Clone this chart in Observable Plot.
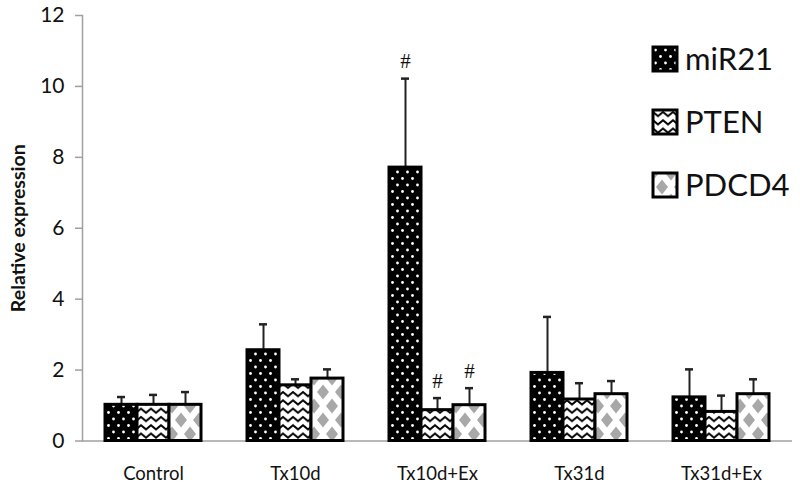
<!DOCTYPE html>
<html>
<head>
<meta charset="utf-8">
<script src="https://cdn.jsdelivr.net/npm/d3@7"></script>
<script src="https://cdn.jsdelivr.net/npm/@observablehq/plot@0.6"></script>
<style>
  body { margin: 0; background: #fff; }
  #wrap { position: relative; width: 800px; height: 491px; background: #fff; }
  #legend { position: absolute; left: 645px; top: 30px; }
</style>
</head>
<body>
<div id="wrap"></div>
<script>
// ---- data ----
const categories = ["Control", "Tx10d", "Tx10d+Ex", "Tx31d", "Tx31d+Ex"];
const series = ["miR21", "PTEN", "PDCD4"];
const miR21Mean = [1.02, 2.56, 7.71, 1.92, 1.23];
const miR21SD   = [0.22, 0.73, 2.51, 1.58, 0.79];
const PTENMean  = [1.02, 1.57, 0.87, 1.17, 0.82];
const PTENSD    = [0.28, 0.17, 0.34, 0.46, 0.46];
const PDCD4Mean = [1.02, 1.76, 1.01, 1.32, 1.32];
const PDCD4SD   = [0.36, 0.26, 0.48, 0.37, 0.42];
const yTicks = [0, 2, 4, 6, 8, 10, 12];
const sigCategory = ["Tx10d+Ex", "Tx10d+Ex", "Tx10d+Ex"];
const sigSeries   = ["miR21", "PTEN", "PDCD4"];
const sigLabel = "#";
const yTitle = "Relative expression";

// ---- table built from the arrays ----
const means = {miR21: miR21Mean, PTEN: PTENMean, PDCD4: PDCD4Mean};
const sds = {miR21: miR21SD, PTEN: PTENSD, PDCD4: PDCD4SD};
const rows = [];
categories.forEach((c, i) => series.forEach(s => {
  rows.push({category: c, series: s, mean: means[s][i], top: means[s][i] + sds[s][i]});
}));
const sigRows = sigCategory.map((c, k) => rows.find(r => r.category === c && r.series === sigSeries[k]));

const patternIds = ["pat-mir", "pat-pten", "pat-pdcd4"];
const patternFills = patternIds.map(id => `url(#${id})`);

const defsMarkup = `
<pattern id="pat-mir" width="10" height="13" patternUnits="userSpaceOnUse">
  <rect width="10" height="13" fill="#000"/>
  <circle cx="2.5" cy="3" r="1.4" fill="#fff"/>
  <circle cx="7.5" cy="9.5" r="1.4" fill="#fff"/>
</pattern>
<pattern id="pat-pten" width="10" height="8.3" patternUnits="userSpaceOnUse">
  <rect width="10" height="8.3" fill="#fff"/>
  <path d="M-5,6 L0,2 L5,6 L10,2 L15,6" fill="none" stroke="#000" stroke-width="2"/>
</pattern>
<pattern id="pat-pdcd4" width="18" height="28" patternUnits="userSpaceOnUse">
  <rect width="18" height="28" fill="#fff"/>
  <path d="M0,-7.5 L6,0 L0,7.5 L-6,0Z M18,-7.5 L24,0 L18,7.5 L12,0Z M0,20.5 L6,28 L0,35.5 L-6,28Z M18,20.5 L24,28 L18,35.5 L12,28Z M9,6.5 L15,14 L9,21.5 L3,14Z" fill="#a8a8a8"/>
</pattern>`;

const chart = Plot.plot({
  width: 800,
  height: 491,
  marginLeft: 81,
  marginRight: 8,
  marginTop: 15,
  marginBottom: 50.5,
  style: {fontFamily: "Lato, sans-serif", background: "#fff", color: "#111"},
  fx: {domain: categories, padding: 0, label: null},
  x: {domain: series, paddingInner: 0, paddingOuter: 0.7, axis: null},
  y: {domain: [0, 12], label: null},
  color: {domain: series, range: patternFills},
  marks: [
    Plot.frame({anchor: "left", stroke: "#a0a0a0", strokeWidth: 1.5, facetAnchor: "left"}),
    Plot.ruleY([0], {stroke: "#a0a0a0", strokeWidth: 1.5}),
    Plot.axisY({ticks: yTicks, tickSize: 7, tickPadding: 11, fontSize: 21, stroke: "#a0a0a0", strokeWidth: 1.5, fill: "#111", label: null}),
    Plot.axisFx({anchor: "bottom", tickSize: 0, tickPadding: 26, fontSize: 18.5, fill: "#111", label: null}),
    Plot.text([yTitle], {frameAnchor: "left", textAnchor: "middle", dx: -64, rotate: -90, fontWeight: "bold", fontSize: 19.5, fill: "#111", facetAnchor: "left"}),
    Plot.ruleX(rows, {fx: "category", x: "series", y1: "mean", y2: "top", stroke: "#222", strokeWidth: 2}),
    Plot.tickY(rows, {fx: "category", x: "series", y: "top", stroke: "#222", strokeWidth: 2.5, insetLeft: 12, insetRight: 12}),
    Plot.barY(rows, {fx: "category", x: "series", y: "mean", fill: "series", stroke: "#000", strokeWidth: 3}),
    Plot.text(sigRows, {fx: "category", x: "series", y: "top", text: () => sigLabel, dy: -17, fontSize: 21, fontFamily: "Liberation Serif, serif", fill: "#111"})
  ]
});

const defs = document.createElementNS("http://www.w3.org/2000/svg", "defs");
defs.innerHTML = defsMarkup;
chart.insertBefore(defs, chart.firstChild);
document.getElementById("wrap").appendChild(chart);

// ---- legend (overlay inside the chart area, as in the reference) ----
const leg = d3.select("#wrap").append("svg")
  .attr("id", "legend").attr("width", 155).attr("height", 185);
series.forEach((s, i) => {
  const g = leg.append("g").attr("transform", `translate(8,${17 + i * 63})`);
  g.append("rect").attr("width", 24).attr("height", 24)
    .attr("fill", patternFills[i]).attr("stroke", "#000").attr("stroke-width", 3);
  g.append("text").attr("x", 32).attr("y", 12).attr("dy", "0.36em")
    .attr("font-family", "Lato, sans-serif").attr("font-size", 31).attr("fill", "#111")
    .text(s);
});
</script>
</body>
</html>
